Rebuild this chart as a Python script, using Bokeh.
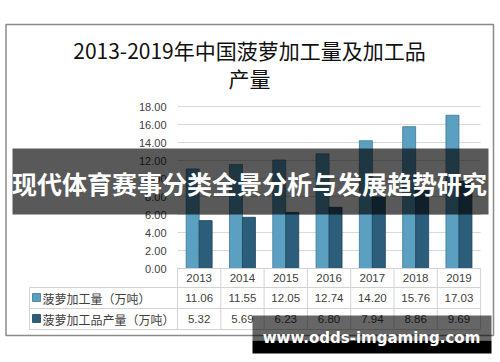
from bokeh.plotting import figure
from bokeh.models import Range1d
from bokeh.core.properties import value
from bokeh.embed import file_html
from bokeh.resources import INLINE

# ---- data ----
years = ["2013", "2014", "2015", "2016", "2017", "2018", "2019"]
processing = [11.06, 11.55, 12.05, 12.74, 14.20, 15.76, 17.03]
products = [5.32, 5.69, 6.23, 6.80, 7.94, 8.86, 9.69]
y_ticks = [0, 2, 4, 6, 8, 10, 12, 14, 16, 18]
series_names = ["菠萝加工量（万吨）", "菠萝加工品产量（万吨）"]
title_lines = ["2013-2019年中国菠萝加工量及加工品", "产量"]
banner_text = "现代体育赛事分类全景分析与发展趋势研究"
watermark_text = "www.odds-imgaming.com"

# ---- layout helpers (reference-pixel -> data units) ----
COL = 43.3
PXU = 9.0
def X(rx):
    return (rx - 177) / COL
def Y(ry):
    return (268 - ry) / PXU

W, H = 500, 362
p = figure(width=W, height=H, output_backend="svg", toolbar_location=None,
           x_range=Range1d(X(0), X(W)), y_range=Range1d(Y(H), Y(0)),
           min_border=0, x_axis_type=None, y_axis_type=None)
p.outline_line_color = None
p.background_fill_color = "white"
p.border_fill_color = "white"

CJK = value("Noto Sans CJK SC")
LAT = value("Liberation Sans")
txt_col = "#404040"
light, light_line = "#5b9fc1", "#3e7898"
dark, dark_line = "#2c5d7b", "#1d445c"
grid_col = "#d9d9d9"

# outer border
p.quad(left=[X(5.5)], right=[X(493)], top=[Y(24)], bottom=[Y(335)],
       fill_color=None, line_color="#8a8a8a", line_width=1.5)

# title
p.text(x=[X(249), X(249)], y=[Y(49), Y(77)], text=title_lines,
       text_font=CJK, text_font_size="21px", text_color="#111111",
       text_align="center", text_baseline="middle")

# gridlines
n = len(years)
p.segment(x0=[0] * (len(y_ticks) - 1), x1=[n] * (len(y_ticks) - 1),
          y0=y_ticks[1:], y1=y_ticks[1:], line_color=grid_col, line_width=1)

# y tick labels
p.text(x=[X(166)] * len(y_ticks), y=y_ticks, text=[f"{v:.2f}" for v in y_ticks],
       text_font=LAT, text_font_size="11px", text_color=txt_col,
       text_align="right", text_baseline="middle")

# bars
xs = [i + 0.5 for i in range(n)]
p.vbar(x=[x - 0.15 for x in xs], width=0.3, top=processing, bottom=0,
       fill_color=light, line_color=light_line, line_width=0.8)
p.vbar(x=[x + 0.15 for x in xs], width=0.3, top=products, bottom=0,
       fill_color=dark, line_color=dark_line, line_width=0.8)

# data table
tcol = "#d2d2d2"
p.segment(x0=[0], x1=[n], y0=[0], y1=[0], line_color=tcol, line_width=1)
p.segment(x0=[X(29)] * 3, x1=[n] * 3, y0=[Y(287), Y(308), Y(329)],
          y1=[Y(287), Y(308), Y(329)], line_color=tcol, line_width=1)
p.segment(x0=list(range(n + 1)), x1=list(range(n + 1)), y0=[0] * (n + 1),
          y1=[Y(329)] * (n + 1), line_color=tcol, line_width=1)
p.segment(x0=[X(29)], x1=[X(29)], y0=[Y(287)], y1=[Y(329)],
          line_color=tcol, line_width=1)

p.text(x=xs, y=[Y(277)] * n, text=years, text_font=LAT, text_font_size="11.5px",
       text_color=txt_col, text_align="center", text_baseline="middle")
p.text(x=xs, y=[Y(297.5)] * n, text=[f"{v:.2f}" for v in processing],
       text_font=LAT, text_font_size="11.5px", text_color=txt_col,
       text_align="center", text_baseline="middle")
p.text(x=xs, y=[Y(318.5)] * n, text=[f"{v:.2f}" for v in products],
       text_font=LAT, text_font_size="11.5px", text_color=txt_col,
       text_align="center", text_baseline="middle")

# row legend keys and labels
p.quad(left=[X(32), X(32)], right=[X(40), X(40)], top=[Y(293), Y(314)],
       bottom=[Y(301), Y(322)], fill_color=[light, dark],
       line_color=[light_line, dark_line], line_width=0.8)
p.text(x=[X(42), X(42)], y=[Y(297.5), Y(318.5)], text=series_names,
       text_font=CJK, text_font_size="12px", text_color=txt_col,
       text_align="left", text_baseline="middle")

# overlay banner
p.quad(left=[X(12)], right=[X(488)], top=[Y(148)], bottom=[Y(214)],
       fill_color="black", fill_alpha=0.65, line_color=None)
p.text(x=[X(249)], y=[Y(182)], text=[banner_text], text_font=CJK,
       text_font_size="25px", text_font_style="bold", text_color="white",
       text_align="center", text_baseline="middle")

# watermark
p.quad(left=[X(252)], right=[X(491)], top=[Y(315)], bottom=[Y(340)],
       fill_color="black", fill_alpha=0.6, line_color=None)
p.quad(left=[X(252)], right=[X(491)], top=[Y(340)], bottom=[Y(353)],
       fill_color="black", fill_alpha=1.0, line_color=None)
p.text(x=[X(371)], y=[Y(337)], text=[watermark_text], text_font=value("DejaVu Sans"),
       text_font_size="15px", text_font_style="bold", text_color="white",
       text_align="center", text_baseline="middle")

open("out.html", "w").write(file_html(p, INLINE))
